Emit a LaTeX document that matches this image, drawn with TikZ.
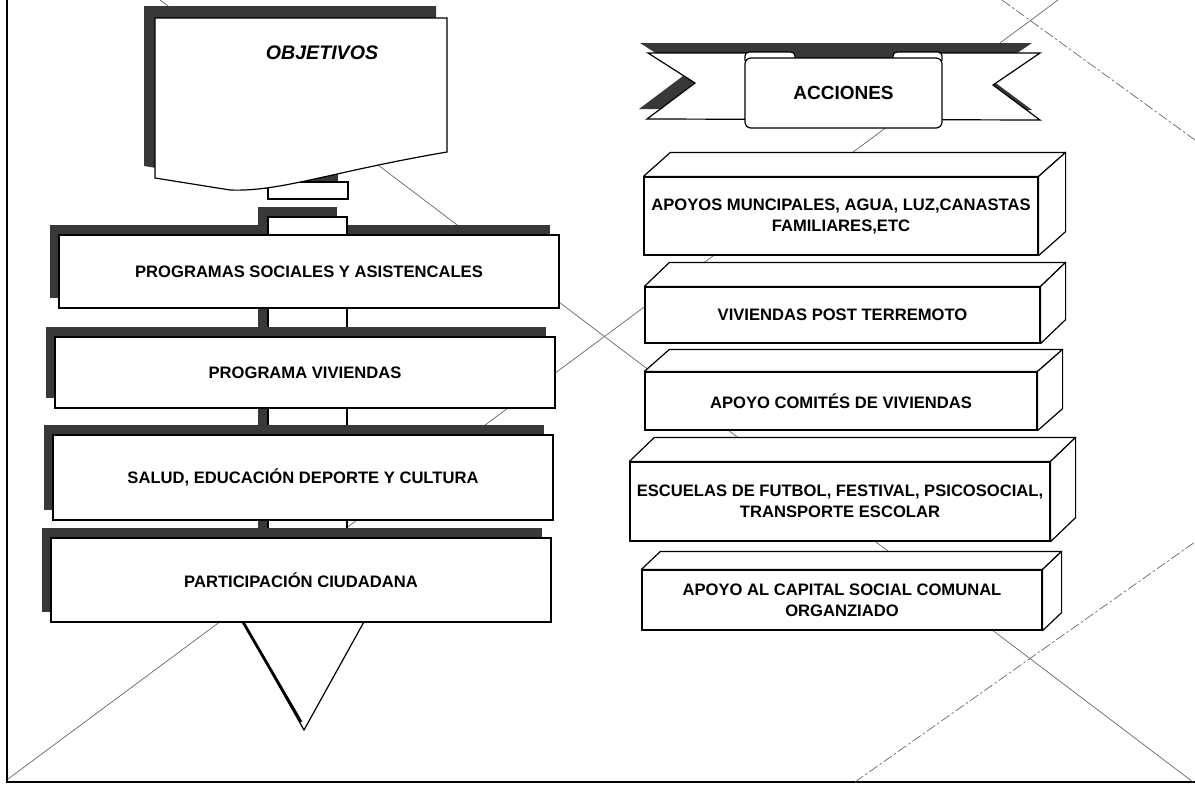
\documentclass[tikz,border=0pt]{standalone}
\usepackage{fontspec}
\setmainfont{Liberation Sans}
\usetikzlibrary{shadows}

\begin{document}
\begin{tikzpicture}[x=0.5pt,y=-0.5pt,
  guide/.style={black!60, line width=0.35pt},
  guidedash/.style={black!60, line width=0.35pt, dash pattern=on 5pt off 1.3pt on 1.2pt off 1.3pt},
  shade/.style={fill=black!78},
  obj/.style={draw, fill=white, line width=0.6pt},
  lbox/.style={obj, minimum width=250pt, inner sep=0pt,
    font=\bfseries\fontsize{8.3}{10}\selectfont,
    drop shadow={shadow xshift=-4.5pt, shadow yshift=5pt, opacity=1, fill=black!78}},
  rbox/.style={obj, inner sep=0pt, align=center, font=\bfseries\fontsize{8.3}{10.5}\selectfont},
  face/.style={obj, line join=round}]

\useasboundingbox (0,0) rectangle (1195,787);
% page frame and guide lines
\draw[line width=1pt] (7,0) -- (7,782) -- (1195,782);
\draw[guide] (160,0) -- (1193,782);
\draw[guide] (8,779) -- (1058,0);
\draw[guidedash] (1002,0) -- (1195,140);
\draw[guidedash] (855,782) -- (1195,542);

% pointer below the last box
\draw[obj] (242,620) -- (304,730) -- (365,620);
\draw[line width=1.4pt] (243,622) -- (301,722);

% connector bar behind the boxes
\fill[shade] (258,207) rectangle (337,612);
\draw[obj] (268,217) rectangle (347,622);
% tab under the sheet
\fill[shade] (258,172) rectangle (338,189);
\draw[obj] (268,182) rectangle (348,199);
% sheet with wavy bottom
\fill[shade] (144,6) -- (436,6) -- (436,140) .. controls (319,160) and (269,180) .. (219,178) -- (144,166) -- cycle;
\draw[obj] (155,18) -- (447,18) -- (447,152) .. controls (330,172) and (280,192) .. (230,190) -- (155,178) -- cycle;
\node[font=\bfseries\itshape\fontsize{9.8}{12}\selectfont] (obj) at (322,53) {OBJETIVOS};

% objective boxes
\foreach \nm/\cx/\cy/\h/\txt in {soc/309/271.5/73/{PROGRAMAS SOCIALES Y ASISTENCALES},
    viv/305/372.5/71/{PROGRAMA VIVIENDAS},
    sal/303/477.5/85/{SALUD, EDUCACIÓN DEPORTE Y CULTURA},
    par/301/580/84/{PARTICIPACIÓN CIUDADANA}} {
  \node[lbox, minimum height=\h*0.5pt] (\nm) at (\cx,\cy) {\txt};
}
% top of the bar above the first box
\draw[obj] (268,217) rectangle (347,235);

% ribbon
\fill[shade] (640,43) -- (1032,43) -- (985,75) -- (1032,110) -- (639,109) -- (687,73) -- cycle;
\draw[obj] (648,53) -- (1040,53) -- (993,85) -- (1040,120) -- (647,119) -- (695,83) -- cycle;
\fill[shade] (786,45) rectangle (893,60);
\draw[obj, rounded corners=2pt] (745,52) rectangle (795,64);
\draw[obj, rounded corners=2pt] (893,52) rectangle (942,64);
\node[obj, rounded corners=3pt, minimum width=98.5pt, minimum height=35pt,
  font=\bfseries\fontsize{9.5}{11}\selectfont] (acc) at (843.5,93) {ACCIONES};

% action blocks
\foreach \nm/\cx/\cy/\w/\h/\dx/\dy/\txt in {
    apo/841/216/394/78/27/24/{APOYOS MUNCIPALES, AGUA, LUZ,CANASTAS\\FAMILIARES,ETC},
    post/842.5/315/395/56/25/24/{VIVIENDAS POST TERREMOTO},
    com/841/401/392/58/25/22/{APOYO COMITÉS DE VIVIENDAS},
    esc/840/501.5/420/79/25/24/{ESCUELAS DE FUTBOL, FESTIVAL, PSICOSOCIAL,\\TRANSPORTE ESCOLAR},
    cap/842/600/400/60/19/18/{APOYO AL CAPITAL SOCIAL COMUNAL\\ORGANZIADO}} {
  \node[rbox, minimum width=\w*0.5pt, minimum height=\h*0.5pt] (\nm) at (\cx,\cy) {\txt};
  \draw[face] (\nm.north west) -- ++(\dx,-\dy) -- ([shift={(\dx,-\dy)}]\nm.north east) -- (\nm.north east) -- cycle;
  \draw[face] (\nm.north east) -- ++(\dx,-\dy) -- ([shift={(\dx,-\dy)}]\nm.south east) -- (\nm.south east) -- cycle;
}
\end{tikzpicture}
\end{document}
